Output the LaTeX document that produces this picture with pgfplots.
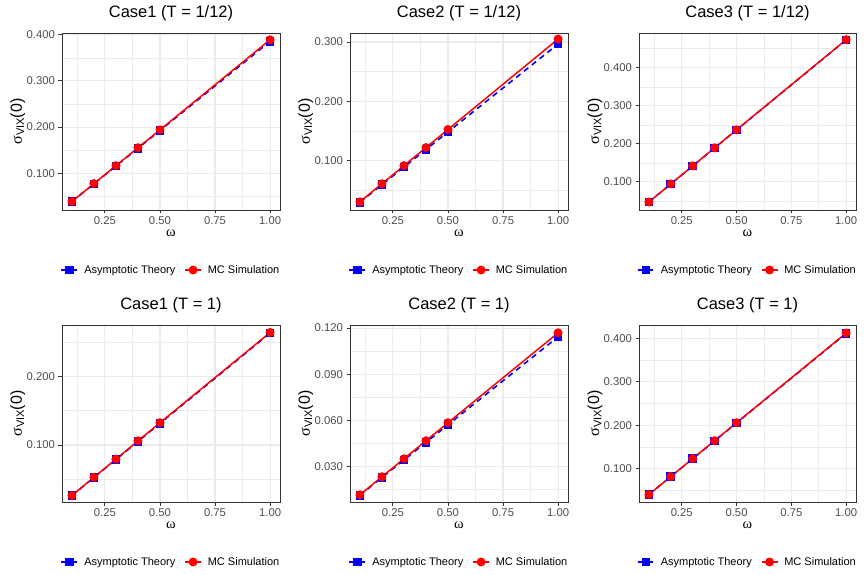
\documentclass[border=0pt]{standalone}
\usepackage{fontspec}
\setmainfont{Liberation Sans}
\newfontfamily\greekserif{Liberation Serif}
\usepackage{pgfplots}
\usepackage{pgfplotstable}
\pgfplotsset{compat=1.18}

\definecolor{grid92}{HTML}{EBEBEB}
\definecolor{gray20}{HTML}{333333}
\definecolor{gray30}{HTML}{4D4D4D}

% omega, asymptotic theory, Monte Carlo simulation
\pgfplotstableread{
w    asy     mc
0.1  0.0385  0.0388
0.2  0.0770  0.0776
0.3  0.1155  0.1164
0.4  0.1540  0.1552
0.5  0.1925  0.1940
1.0  0.3855  0.3890
}\caseAshort
\pgfplotstableread{
w    asy     mc
0.1  0.0297  0.0305
0.2  0.0593  0.0610
0.3  0.0890  0.0915
0.4  0.1187  0.1220
0.5  0.1483  0.1525
1.0  0.2966  0.3050
}\caseBshort
\pgfplotstableread{
w    asy     mc
0.1  0.0473  0.0474
0.2  0.0946  0.0948
0.3  0.1419  0.1422
0.4  0.1892  0.1896
0.5  0.2365  0.2370
1.0  0.4730  0.4737
}\caseCshort
\pgfplotstableread{
w    asy     mc
0.1  0.0263  0.0265
0.2  0.0526  0.0530
0.3  0.0789  0.0795
0.4  0.1052  0.1060
0.5  0.1315  0.1325
1.0  0.2630  0.2640
}\caseAlong
\pgfplotstableread{
w    asy     mc
0.1  0.0114  0.0117
0.2  0.0229  0.0234
0.3  0.0343  0.0351
0.4  0.0457  0.0468
0.5  0.0572  0.0585
1.0  0.1143  0.1169
}\caseBlong
\pgfplotstableread{
w    asy     mc
0.1  0.0411  0.0412
0.2  0.0822  0.0824
0.3  0.1233  0.1236
0.4  0.1644  0.1648
0.5  0.2055  0.2060
1.0  0.4110  0.4120
}\caseClong

\pgfplotsset{
  vixpanel/.style={
    scale only axis, width=218bp, height=177bp,
    anchor=south west, clip=false,
    xmin=0.055, xmax=1.045,
    xtick={0.25,0.5,0.75,1},
    minor xtick={0.125,0.375,0.625,0.875},
    grid=both,
    major grid style={grid92, line width=1.1bp},
    minor grid style={grid92, line width=0.55bp},
    axis line style={gray20, line width=0.9bp},
    tick align=outside, tick pos=left,
    major tick length=3.5bp, minor tick length=0pt,
    tick style={gray20, line width=0.9bp},
    /pgf/number format/assume math mode=true,
    tick label style={font=\fontsize{11.3bp}{12.5bp}\selectfont, text=gray30},
    xticklabel style={/pgf/number format/.cd, fixed, fixed zerofill, precision=2},
    yticklabel style={/pgf/number format/.cd, fixed, fixed zerofill, precision=3},
    title style={font=\fontsize{16.5bp}{18bp}\selectfont, at={(0.5,1)}, anchor=base, yshift=10bp},
    xlabel={{\greekserif\fontsize{14.5bp}{16bp}\selectfont ω}},
    xlabel style={at={(axis description cs:0.5,0)}, anchor=base, yshift=-26.5bp},
    ylabel={{\fontsize{16bp}{18bp}\selectfont {\greekserif σ}\raisebox{-0.25ex}{\fontsize{11bp}{12bp}\selectfont VIX}(0)}},
    ylabel style={at={(axis description cs:-0.1835,0.5)}, anchor=base},
    legend style={at={(0.5,0)}, anchor=center, yshift=-60bp, draw=none, fill=none,
      legend columns=2, font=\fontsize{11bp}{13bp}\selectfont,
      /tikz/every odd column/.append style={column sep=4bp},
      /tikz/every even column/.append style={column sep=7bp}},
    legend image code/.code={\draw[mark repeat=2,mark phase=2,#1] plot coordinates {(0bp,0bp) (8bp,0bp) (16bp,0bp)};},
  },
  asyline/.style={blue, line width=1.6bp, dash pattern=on 5.5bp off 4.5bp,
    mark=square*, mark size=3.5bp, mark options={solid, fill=blue, draw=blue}},
  mcline/.style={red, line width=1.5bp, solid,
    mark=*, mark size=3.7bp, mark options={solid, fill=red, draw=red}},
}

\begin{document}
\begin{tikzpicture}
\useasboundingbox (0,0) rectangle (864bp,575bp);

% T = 1/12
\begin{axis}[vixpanel, at={(62bp,365bp)}, title={Case1 (T = 1/12)},
  ymin=0.0204, ymax=0.4037, ytick={0.1,0.2,0.3,0.4}, minor ytick={0.05,0.15,0.25,0.35}]
  \addplot[asyline] table[x=w, y=asy] {\caseAshort};
  \addplot[mcline] table[x=w, y=mc] {\caseAshort};
  \legend{Asymptotic Theory, MC Simulation}
\end{axis}
\begin{axis}[vixpanel, at={(350bp,365bp)}, title={Case2 (T = 1/12)},
  ymin=0.0167, ymax=0.3152, ytick={0.1,0.2,0.3}, minor ytick={0.05,0.15,0.25}]
  \addplot[asyline] table[x=w, y=asy] {\caseBshort};
  \addplot[mcline] table[x=w, y=mc] {\caseBshort};
  \legend{Asymptotic Theory, MC Simulation}
\end{axis}
\begin{axis}[vixpanel, at={(639bp,365bp)}, width=217bp, title={Case3 (T = 1/12)},
  ymin=0.0263, ymax=0.4913, ytick={0.1,0.2,0.3,0.4}, minor ytick={0.05,0.15,0.25,0.35,0.45}]
  \addplot[asyline] table[x=w, y=asy] {\caseCshort};
  \addplot[mcline] table[x=w, y=mc] {\caseCshort};
  \legend{Asymptotic Theory, MC Simulation}
\end{axis}

% T = 1
\begin{axis}[vixpanel, at={(62bp,73bp)}, title={Case1 (T = 1)},
  ymin=0.0170, ymax=0.2749, ytick={0.1,0.2}, minor ytick={0.05,0.15,0.25}]
  \addplot[asyline] table[x=w, y=asy] {\caseAlong};
  \addplot[mcline] table[x=w, y=mc] {\caseAlong};
  \legend{Asymptotic Theory, MC Simulation}
\end{axis}
\begin{axis}[vixpanel, at={(350bp,73bp)}, title={Case2 (T = 1)},
  ymin=0.0070, ymax=0.1220, ytick={0.03,0.06,0.09,0.12}, minor ytick={0.015,0.045,0.075,0.105}]
  \addplot[asyline] table[x=w, y=asy] {\caseBlong};
  \addplot[mcline] table[x=w, y=mc] {\caseBlong};
  \legend{Asymptotic Theory, MC Simulation}
\end{axis}
\begin{axis}[vixpanel, at={(639bp,73bp)}, width=217bp, title={Case3 (T = 1)},
  ymin=0.0240, ymax=0.4304, ytick={0.1,0.2,0.3,0.4}, minor ytick={0.05,0.15,0.25,0.35}]
  \addplot[asyline] table[x=w, y=asy] {\caseClong};
  \addplot[mcline] table[x=w, y=mc] {\caseClong};
  \legend{Asymptotic Theory, MC Simulation}
\end{axis}
\end{tikzpicture}
\end{document}
